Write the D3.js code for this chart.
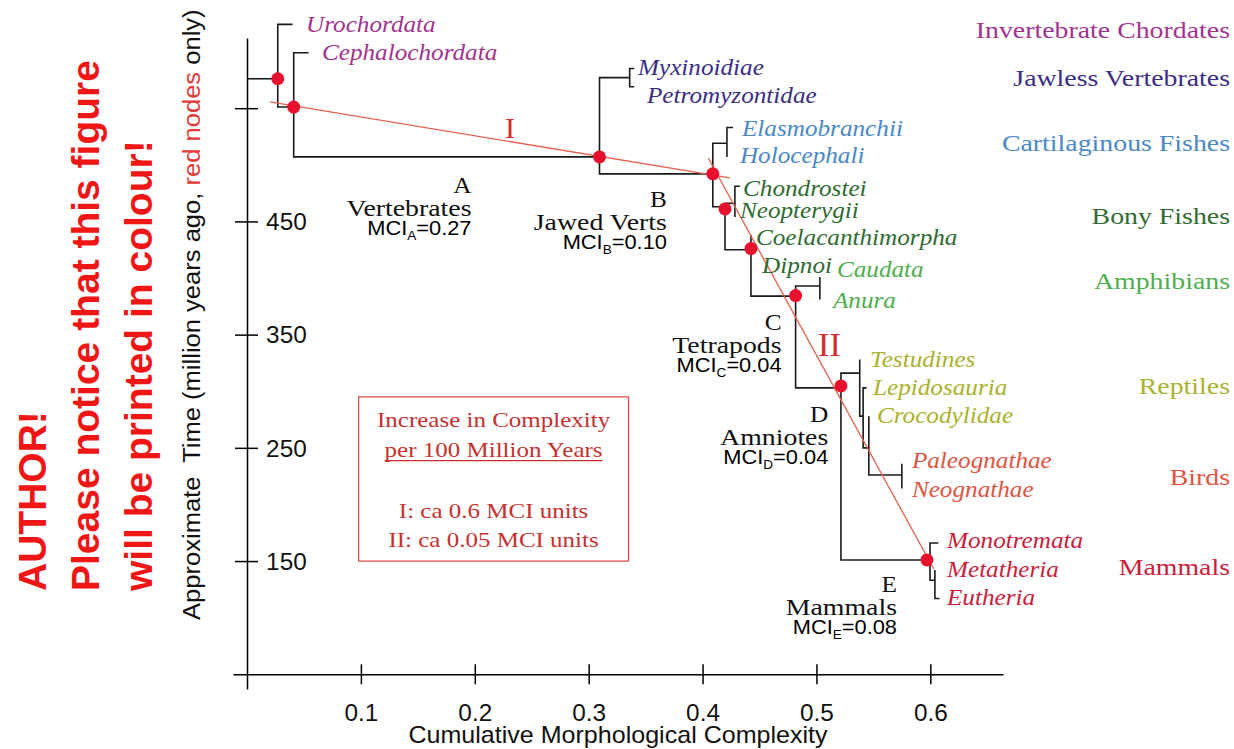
<!DOCTYPE html>
<html>
<head>
<meta charset="utf-8">
<script src="https://cdn.jsdelivr.net/npm/d3@7"></script>
<style>
  body { margin: 0; background: #fff; }
  svg { display: block; }
</style>
</head>
<body>
<div id="chart"></div>
<script>
// ---------------- data ----------------
const xTicks = [0.1, 0.2, 0.3, 0.4, 0.5, 0.6];
const yTicks = [550, 450, 350, 250, 150];
const yTickLabels = ["", "450", "350", "250", "150"];

const groupNames = ["Invertebrate Chordates", "Jawless Vertebrates", "Cartilaginous Fishes",
  "Bony Fishes", "Amphibians", "Reptiles", "Birds", "Mammals"];
const groupMya = [619, 577, 519, 455, 397, 305, 224, 145];

// red nodes (complexity, million years ago)
const nodeMci = [0.027, 0.041, 0.3095, 0.409, 0.4197, 0.4425, 0.4817, 0.5215, 0.597];
const nodeMya = [576, 551, 507, 492, 461, 426, 384.5, 304.7, 151];

// tree branches as [mci, mya] polylines
const branches = [
  [[0, 576], [0.027, 576]],
  [[0.040, 624], [0.027, 624], [0.027, 551], [0.041, 551]],
  [[0.054, 599], [0.041, 599], [0.041, 507], [0.3095, 507]],
  [[0.3095, 507], [0.3095, 577], [0.336, 577]],
  [[0.340, 585], [0.336, 585], [0.336, 569], [0.340, 569]],
  [[0.3095, 507], [0.3095, 492], [0.409, 492]],
  [[0.409, 492], [0.409, 519], [0.4214, 519]],
  [[0.4267, 533], [0.4214, 533], [0.4214, 507]],
  [[0.409, 492], [0.409, 463], [0.4197, 463]],
  [[0.4197, 466], [0.4197, 425], [0.4425, 425]],
  [[0.4197, 466], [0.4284, 466]],
  [[0.4328, 481], [0.4284, 481], [0.4284, 454]],
  [[0.4425, 438], [0.4425, 384], [0.4817, 384]],
  [[0.4817, 384.5], [0.4817, 393], [0.503, 393]],
  [[0.503, 401], [0.503, 381]],
  [[0.4817, 384.5], [0.4817, 303], [0.5215, 303]],
  [[0.5215, 304.7], [0.5215, 316], [0.538, 316]],
  [[0.538, 328], [0.538, 278], [0.541, 278]],
  [[0.544, 303], [0.541, 303], [0.541, 250], [0.546, 250]],
  [[0.546, 278], [0.546, 226], [0.575, 226]],
  [[0.575, 236], [0.575, 214]],
  [[0.5215, 304.7], [0.5215, 151], [0.597, 151]],
  [[0.607, 166], [0.5997, 166], [0.5997, 133], [0.604, 133]],
  [[0.604, 142], [0.604, 117], [0.608, 117]]
];

const tipNames = ["Urochordata", "Cephalochordata", "Myxinoidiae", "Petromyzontidae",
  "Elasmobranchii", "Holocephali", "Chondrostei", "Neopterygii", "Coelacanthimorpha", "Dipnoi",
  "Caudata", "Anura", "Testudines", "Lepidosauria", "Crocodylidae", "Paleognathae", "Neognathae",
  "Monotremata", "Metatheria", "Eutheria"];
const tipGroup = [0, 0, 1, 1, 2, 2, 3, 3, 3, 3, 4, 4, 5, 5, 5, 6, 6, 7, 7, 7];
const tipMci = [0.0518, 0.0658, 0.3433, 0.3512, 0.4346, 0.4328, 0.4355, 0.4328, 0.4469, 0.4522,
  0.5180, 0.5145, 0.5470, 0.5496, 0.5531, 0.5838, 0.5838, 0.6146, 0.6146, 0.6146];
const tipMya = [624.7, 599.7, 586.5, 562, 532.6, 508.5, 479.9, 460.2, 436.3, 411.6,
  408.3, 380.7, 328.8, 303.8, 278.8, 239, 214, 168.4, 143.3, 118.3];

const cladeLetters = ["A", "B", "C", "D", "E"];
const cladeNames = ["Vertebrates", "Jawed Verts", "Tetrapods", "Amniotes", "Mammals"];
const cladeMCI = ["0.27", "0.10", "0.04", "0.04", "0.08"];
const cladeAtMci = [0.1971, 0.3687, 0.4694, 0.5104, 0.5707];
const cladeAtMya = [474.9, 463.1, 354.2, 273.1, 123];

const trendNames = ["I", "II"];
const trendLines = [
  [[0.020, 555.6], [0.424, 488.4]],
  [[0.405, 506], [0.603, 143]]
];
const trendLabelAt = [[0.231, 523.8], [0.5114, 331.2]];

const rateText = ["Increase in Complexity", "per 100 Million Years", "I: ca 0.6 MCI units", "II: ca 0.05 MCI units"];
const rateBoxMci = [0.098, 0.335];
const rateBoxMya = [295, 150];

const noticeLines = ["AUTHOR!", "Please notice that this figure", "will be printed in colour!"];

// ---------------- drawing ----------------
const W = 1234, H = 749;
const serif = "'Liberation Serif','Times New Roman',serif";
const sans = "'Liberation Sans',Arial,sans-serif";
const groupColors = ["#a3338f", "#3a2d86", "#4a88c8", "#2f6b32", "#4fae4f", "#a9b22c", "#e25440", "#cc1c3c"];
const red = "#e8112d";

const svg = d3.select("#chart").append("svg").attr("width", W).attr("height", H);
svg.append("rect").attr("width", W).attr("height", H).attr("fill", "#fff");

const x = d3.scaleLinear().domain([-0.0123, 0.6638]).range([233, 1003]);
const y = d3.scaleLinear().domain([612, 37]).range([38, 689]);

function put(g, str, px, py, o) {
  const t = g.append("text")
    .attr("transform", "translate(" + px + "," + py + ")" + (o.rot ? " rotate(" + o.rot + ")" : "") + " scale(" + (o.sx || 1) + ",1)")
    .attr("text-anchor", o.anchor || "start")
    .attr("font-family", o.family || serif)
    .attr("font-size", o.size)
    .attr("fill", o.color || "#111");
  if (o.italic) t.attr("font-style", "italic");
  if (o.bold) t.attr("font-weight", "bold");
  if (str != null) t.text(str);
  return t;
}

// axes
const xAxis = d3.axisBottom(x).tickValues(xTicks).tickSizeOuter(0).tickSizeInner(10).tickFormat(d3.format(".1f"));
const gx = svg.append("g").attr("transform", "translate(0," + y(50) + ")").call(xAxis);
gx.select(".domain").attr("stroke", "#000").attr("stroke-width", 1.5);
gx.selectAll(".tick line").attr("y1", -10).attr("y2", 10).attr("stroke", "#000").attr("stroke-width", 1.5);
gx.selectAll(".tick text").attr("y", 30).attr("dy", "0.71em")
  .attr("font-family", sans).attr("font-size", 23).attr("fill", "#111")
  .attr("transform", "scale(1.06,1)");

const yAxis = d3.axisRight(y).tickValues(yTicks).tickSizeOuter(0).tickSizeInner(11)
  .tickFormat((d, i) => yTickLabels[i]);
const gy = svg.append("g").attr("transform", "translate(" + x(0) + ",0)").call(yAxis);
gy.select(".domain").attr("stroke", "#000").attr("stroke-width", 1.5);
gy.selectAll(".tick line").attr("x1", -12).attr("x2", 11).attr("stroke", "#000").attr("stroke-width", 1.5);
gy.selectAll(".tick text").attr("x", 18).attr("dy", "0.36em")
  .attr("font-family", sans).attr("font-size", 23).attr("fill", "#111")
  .attr("transform", "scale(1.06,1)");

// axis titles
put(svg, "Cumulative Morphological Complexity", (x.range()[0] + x.range()[1]) / 2, 743,
  { family: sans, size: 23, sx: 1.09, anchor: "middle" });
const yt = put(svg, null, 200, 620, { family: sans, size: 24, sx: 1.065, rot: -90 }).style("white-space", "pre");
yt.append("tspan").text("Approximate  Time (million years ago, ");
yt.append("tspan").attr("fill", "#e03a3a").text("red nodes");
yt.append("tspan").text(" only)");

// notice in red
noticeLines.forEach((s, i) => {
  put(svg, s, 46 + i * 53, 591, { family: sans, size: 39, bold: true, rot: -90, color: "#f01616" });
});

// tree
const line = d3.line().x(d => x(d[0])).y(d => y(d[1]));
svg.append("g").selectAll("path").data(branches).join("path")
  .attr("d", line).attr("fill", "none").attr("stroke", "#1a1a1a").attr("stroke-width", 1.6);

// trend lines
svg.append("g").selectAll("path").data(trendLines).join("path")
  .attr("d", line).attr("fill", "none").attr("stroke", "#e8604f").attr("stroke-width", 1.3);
trendNames.forEach((s, i) => {
  put(svg, s, x(trendLabelAt[i][0]), y(trendLabelAt[i][1]), { size: i === 0 ? 30 : 34, anchor: "middle", color: "#d42a2a" });
});

// red nodes
svg.append("g").selectAll("circle").data(nodeMci).join("circle")
  .attr("cx", d => x(d)).attr("cy", (d, i) => y(nodeMya[i])).attr("r", 6.5).attr("fill", red);

// tip labels
const gTips = svg.append("g");
tipNames.forEach((s, i) => {
  put(gTips, s, x(tipMci[i]), y(tipMya[i]) + 8, { size: 24, italic: true, sx: 1.05, color: groupColors[tipGroup[i]] });
});

// group labels on the right
const gGroups = svg.append("g");
groupNames.forEach((s, i) => {
  put(gGroups, s, 1230, y(groupMya[i]) + 8, { size: 24, sx: 1.16, anchor: "end", color: groupColors[i] });
});

// clade labels
const gClades = svg.append("g");
cladeLetters.forEach((s, i) => {
  const px = x(cladeAtMci[i]), py = y(cladeAtMya[i]);
  put(gClades, s, px, py, { size: 23, sx: 1.1, anchor: "end" });
  put(gClades, cladeNames[i], px, py + 23, { size: 23, sx: 1.21, anchor: "end" });
  const m = put(gClades, null, px, py + 42, { family: sans, size: 21, sx: 1.04, anchor: "end", color: "#000" });
  m.append("tspan").text("MCI");
  m.append("tspan").attr("font-size", 13).attr("dy", 5).text(s);
  m.append("tspan").attr("dy", -5).text("=" + cladeMCI[i]);
});

// rate box
const bx0 = x(rateBoxMci[0]), bx1 = x(rateBoxMci[1]);
const by0 = y(rateBoxMya[0]), by1 = y(rateBoxMya[1]);
const gBox = svg.append("g");
gBox.append("rect").attr("x", bx0).attr("y", by0).attr("width", bx1 - bx0).attr("height", by1 - by0)
  .attr("fill", "none").attr("stroke", "#d64545").attr("stroke-width", 1.2);
const boxOffsets = [29.7, 59.7, 121.3, 149.7];
rateText.forEach((s, i) => {
  const t = put(gBox, s, (bx0 + bx1) / 2, by0 + boxOffsets[i], { size: 21, sx: 1.19, anchor: "middle", color: "#c8302f" });
  if (i === 1) {
    const w = t.node().getComputedTextLength() * 1.19;
    gBox.append("line").attr("x1", (bx0 + bx1) / 2 - w / 2).attr("x2", (bx0 + bx1) / 2 + w / 2)
      .attr("y1", by0 + boxOffsets[i] + 4).attr("y2", by0 + boxOffsets[i] + 4)
      .attr("stroke", "#c8302f").attr("stroke-width", 1.2);
  }
});
</script>
</body>
</html>
